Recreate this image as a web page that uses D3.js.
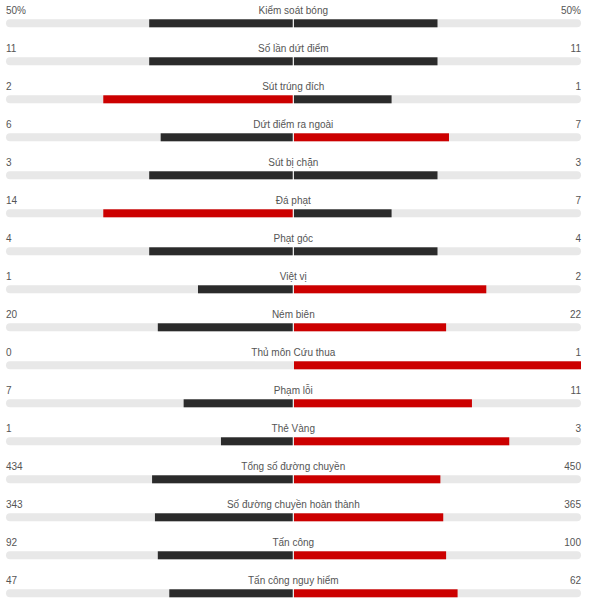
<!DOCTYPE html>
<html>
<head>
<meta charset="utf-8">
<script src="https://cdn.jsdelivr.net/npm/d3@7"></script>
<style>
  body { margin: 0; background: #fff; }
  text { font-family: "Liberation Sans", Arial, sans-serif; font-size: 10px; fill: #555; }
</style>
</head>
<body>
<svg></svg>
<script>
var labels = ["Kiểm soát bóng", "Số lần dứt điểm", "Sút trúng đích", "Dứt điểm ra ngoài",
  "Sút bị chặn", "Đá phạt", "Phạt góc", "Việt vị", "Ném biên", "Thủ môn Cứu thua",
  "Phạm lỗi", "Thẻ Vàng", "Tổng số đường chuyền", "Số đường chuyền hoàn thành",
  "Tấn công", "Tấn công nguy hiểm"];
var homeValues = [50, 11, 2, 6, 3, 14, 4, 1, 20, 0, 7, 1, 434, 343, 92, 47];
var awayValues = [50, 11, 1, 7, 3, 7, 4, 2, 22, 1, 11, 3, 450, 365, 100, 62];
var suffixes = ["%", "", "", "", "", "", "", "", "", "", "", "", "", "", "", ""];

var svgWidth = 589;
var svgHeight = 606;
var left = 6, right = 581, center = 293.3;
var rowStep = 38, trackTop = 19.3, trackH = 8;

var svg = d3.select("svg")
    .attr("width", svgWidth)
    .attr("height", svgHeight);

var y = d3.scaleLinear()
    .domain([0, 1])
    .range([trackTop, trackTop + rowStep]);

// percent -> length out from the centre line
var xLeft = d3.scaleLinear().domain([0, 100]).range([center - 0.6, 5.7]);
var xRight = d3.scaleLinear().domain([0, 100]).range([center + 0.7, right]);

// home share is floored to a whole percent, away gets the rest
var rows = labels.map(function(l, i) {
    var h = homeValues[i], a = awayValues[i], t = h + a;
    var hp = t ? Math.floor(h / t * 100) : 0;
    return { label: l, home: h, away: a, hp: hp, ap: t ? 100 - hp : 0, suf: suffixes[i] };
});

var g = svg.selectAll("g.row")
    .data(rows)
    .enter()
    .append("g")
    .attr("class", "row")
    .attr("transform", function(d, i) { return "translate(0," + y(i) + ")"; });

// grey track
g.append("rect")
    .attr("x", left)
    .attr("y", 0)
    .attr("width", right - left)
    .attr("height", trackH)
    .attr("rx", 4)
    .attr("fill", "#e8e8e8");

function color(mine, other) {
    return mine > other ? "#cc0000" : "#2b2b2b";
}

g.append("rect")
    .attr("x", function(d) { return xLeft(d.hp); })
    .attr("y", 0)
    .attr("width", function(d) { return xLeft(0) - xLeft(d.hp); })
    .attr("height", trackH)
    .attr("fill", function(d) { return color(d.home, d.away); });

g.append("rect")
    .attr("x", xRight(0))
    .attr("y", 0)
    .attr("width", function(d) { return xRight(d.ap) - xRight(0); })
    .attr("height", trackH)
    .attr("fill", function(d) { return color(d.away, d.home); });

// texts
g.append("text")
    .attr("x", left)
    .attr("y", -5.5)
    .text(function(d) { return d.home + d.suf; });

g.append("text")
    .attr("x", right)
    .attr("y", -5.5)
    .attr("text-anchor", "end")
    .text(function(d) { return d.away + d.suf; });

g.append("text")
    .attr("x", center)
    .attr("y", -5.5)
    .attr("text-anchor", "middle")
    .text(function(d) { return d.label; });
</script>
</body>
</html>
